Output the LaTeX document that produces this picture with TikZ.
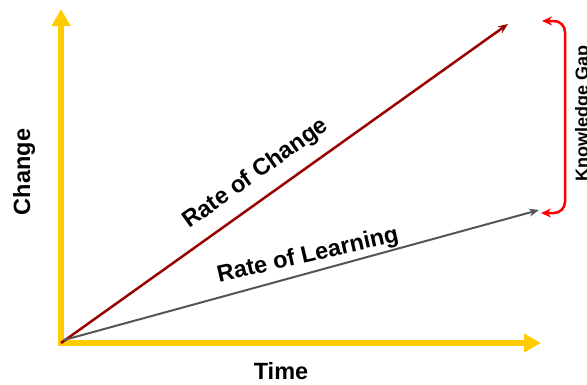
\documentclass[tikz,border=0pt]{standalone}
\usepackage{fontspec}
\setmainfont{Liberation Sans}
\usetikzlibrary{arrows.meta}
\definecolor{axisyellow}{HTML}{FFCC00}
\definecolor{changered}{HTML}{990000}
\definecolor{learngray}{HTML}{555555}
\begin{document}
\begin{tikzpicture}[x=1pt,y=-1pt,font=\fontsize{23.5}{28}\selectfont\bfseries,
  axis/.style={draw=axisyellow,line width=5.5pt,-{Triangle[length=17pt,width=18pt]}},
  rate/.style={line width=2.5pt,-{Stealth[length=10pt,width=8pt]}},
  gaparrow/.style={red,line width=2.5pt,rounded corners=11pt,
    {Stealth[length=10pt,width=9pt]}-{Stealth[length=10pt,width=9pt]}}]
\useasboundingbox (0,0) rectangle (587,384);
% axes
\coordinate (O) at (61,343);
\coordinate (Ocorner) at (58,343);
\coordinate (Obottom) at (61,346);
\coordinate (T) at (541,343);
\coordinate (C) at (61,9);
\draw[axis] (Ocorner) -- (T);
\draw[axis] (Obottom) -- (C);
% rates
\coordinate (RC) at (508,24);
\coordinate (RLstart) at (64,340);
\coordinate (RL) at (539,210);
\draw[rate,changered] (O) -- (RC);
\draw[rate,learngray,line width=2pt] (RLstart) -- (RL);
% gap
\coordinate (G1) at (542,21);
\coordinate (Gmid) at (565,113);
\coordinate (G2) at (541,213);
\draw[gaparrow] (G1) -| (Gmid) |- (G2);
% labels
\node[rotate=90] (change) at (24,172) {Change};
\node (time) at (281,371) {Time};
\node[rotate=35.5] (roc) at (256,174) {Rate of Change};
\node[rotate=13] (rol) at (308,256) {Rate of Learning};
\node[rotate=90,anchor=north,inner sep=0pt,font=\fontsize{18}{21}\selectfont\bfseries] (gap) at (575,113) {Knowledge Gap};
\end{tikzpicture}
\end{document}
